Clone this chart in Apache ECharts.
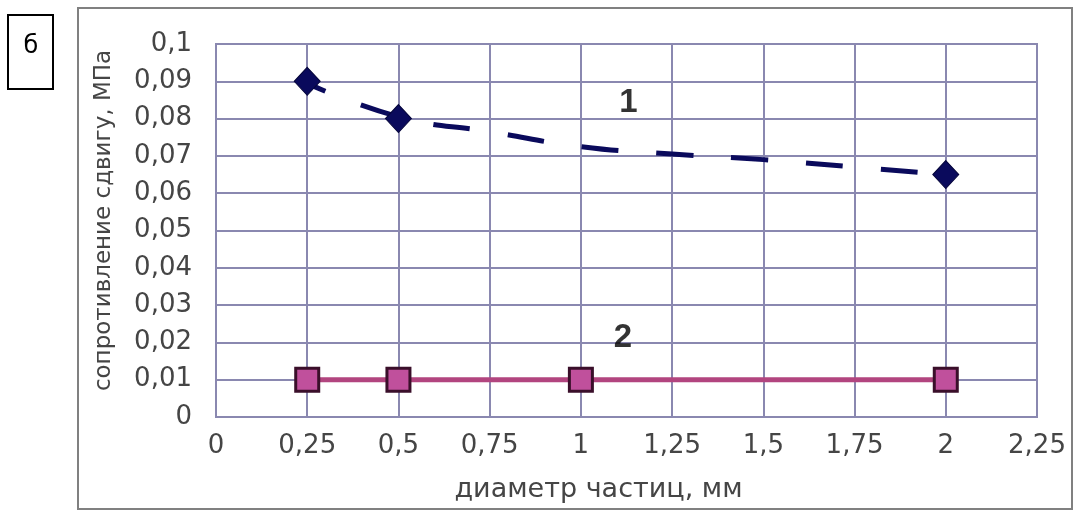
<!DOCTYPE html>
<html><head><meta charset="utf-8">
<script src="https://cdn.jsdelivr.net/npm/echarts@6/dist/echarts.min.js"></script>
<style>html,body{margin:0;padding:0;background:#fff}#c{width:1078px;height:512px}</style>
</head><body><div id="c"></div>
<script>
// Series 1: measured points (diamonds)
const s1X = [0.25, 0.5, 2];
const s1Y = [0.09, 0.08, 0.065];
// Series 1: dashed trend curve
const trendX = [0.25, 0.5, 0.75, 1, 1.25, 1.5, 1.75, 2];
const trendY = [0.0895, 0.0805, 0.0765, 0.0725, 0.0705, 0.069, 0.067, 0.065];
// Series 2 (squares)
const s2X = [0.25, 0.5, 1, 2];
const s2Y = [0.01, 0.01, 0.01, 0.01];
// curve labels
const labelText = ['1', '2'];
const labelX = [1.13, 1.115];
const labelY = [0.0842, 0.0211];

const zip = (a, b) => a.map((v, i) => [v, b[i]]);
const comma = v => String(+(+v).toFixed(2)).replace('.', ',');
const LBL = '#454545';

const chart = echarts.init(document.getElementById('c'));
chart.setOption({
  animation: false,
  backgroundColor: '#ffffff',
  grid: {left: 216, top: 44, right: 41, bottom: 95, show: true, borderColor: '#8a88b0', borderWidth: 2, backgroundColor: '#ffffff'},
  xAxis: {
    type: 'value', min: 0, max: 2.25, interval: 0.25,
    name: 'диаметр частиц, мм', nameLocation: 'middle', nameGap: 59,
    nameTextStyle: {fontFamily: 'DejaVu Sans', fontSize: 27, color: LBL, padding: [0, 56, 0, 0]},
    axisLine: {show: true, lineStyle: {color: '#8a88b0', width: 2}},
    axisTick: {show: false},
    axisLabel: {formatter: comma, margin: 16, fontFamily: 'DejaVu Sans', fontSize: 26, color: LBL},
    splitLine: {show: true, lineStyle: {color: '#8a88b0', width: 2}}
  },
  yAxis: {
    type: 'value', min: 0, max: 0.1, interval: 0.01,
    name: 'сопротивление сдвигу, МПа', nameLocation: 'middle', nameGap: 100,
    nameTextStyle: {fontFamily: 'DejaVu Sans', fontSize: 23, color: LBL, padding: [0, 0, 0, 20]},
    axisLine: {show: true, lineStyle: {color: '#8a88b0', width: 2}},
    axisTick: {show: false},
    axisLabel: {formatter: comma, margin: 24, fontFamily: 'DejaVu Sans', fontSize: 26, color: LBL},
    splitLine: {show: true, lineStyle: {color: '#8a88b0', width: 2}}
  },
  series: [
    {
      type: 'line', data: zip(trendX, trendY), smooth: true, showSymbol: false, symbol: 'none',
      lineStyle: {color: '#0a0a5c', width: 5, type: [37, 38], dashOffset: 17}, z: 2
    },
    {
      type: 'scatter', data: zip(s1X, s1Y), symbol: 'diamond', symbolSize: [26, 28],
      itemStyle: {color: '#0a0a5c', borderColor: '#05053a', borderWidth: 1, opacity: 1}, z: 4
    },
    {
      type: 'line', data: zip(s2X, s2Y), symbol: 'rect', symbolSize: 23, showAllSymbol: true,
      lineStyle: {color: '#b2457f', width: 5},
      itemStyle: {color: '#c0509c', borderColor: '#3a0f2a', borderWidth: 3}, z: 3
    },
    {
      type: 'scatter', data: labelX.map((x, i) => [x, labelY[i], labelText[i]]), symbolSize: 0,
      label: {show: true, position: 'inside', formatter: p => p.data[2], fontFamily: 'Liberation Sans', fontWeight: 'bold', fontSize: 33, color: '#000'}, z: 5
    }
  ],
  graphic: [
    {type: 'rect', shape: {x: 78, y: 8, width: 994, height: 501}, style: {fill: 'none', stroke: '#808080', lineWidth: 2}, z: 0},
    {type: 'rect', shape: {x: 8, y: 15, width: 45, height: 74}, style: {fill: '#fff', stroke: '#000', lineWidth: 2}},
    {type: 'text', x: 31, y: 47, style: {text: 'б', font: '24px "DejaVu Sans"', fill: '#000', align: 'center', verticalAlign: 'middle'}}
  ]
});
</script></body></html>
